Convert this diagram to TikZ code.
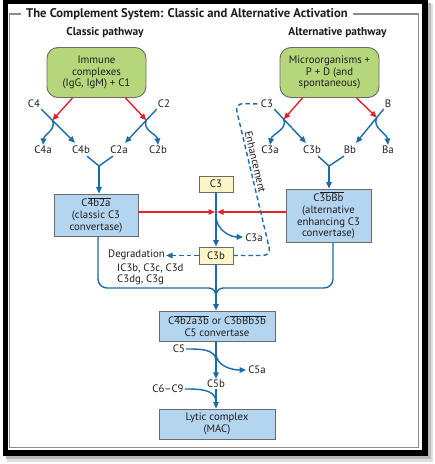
\documentclass[tikz,border=0pt]{standalone}
\usepackage{fontspec}
\setmainfont{PT Sans}
\usetikzlibrary{arrows.meta,calc}
\definecolor{lnblue}{HTML}{1B6BAA}
\definecolor{lnred}{HTML}{E2232A}
\definecolor{boxblue}{HTML}{B4D5F0}
\definecolor{boxgreen}{HTML}{B6D67B}
\definecolor{boxyellow}{HTML}{FDF6C9}
\definecolor{boxedge}{HTML}{6A6A6A}
\definecolor{framegrey}{HTML}{8C8C8C}
\definecolor{txtc}{HTML}{1E1E1E}
\newcommand\ovl[1]{$\overline{\mbox{#1}}$}
\begin{document}
\begin{tikzpicture}[x=1pt,y=-1pt,
  every node/.style={text=txtc, font=\fontsize{10.8}{11.8}\selectfont},
  lbl/.style={inner sep=1pt},
  greenbox/.style={draw=boxedge, fill=boxgreen, line width=0.9pt, rounded corners=11pt, align=center, inner sep=0pt},
  bluebox/.style={draw=boxedge, fill=boxblue, line width=0.9pt, align=center, inner sep=0pt},
  yelbox/.style={draw=boxedge, fill=boxyellow, line width=0.9pt, align=center, inner sep=0pt},
  bl/.style={draw=lnblue, line width=1.4pt},
  rd/.style={draw=lnred, line width=1.4pt},
  arr/.style={-{Triangle[length=6.5pt,width=5.5pt]}},
  dsh/.style={dash pattern=on 4.5pt off 3pt},
  hdr/.style={font=\bfseries\fontsize{11.4}{13}\selectfont},
]
\useasboundingbox (0,0) rectangle (435,464);
% frame
\fill[gray!25] (7,4) rectangle (433,462);
\fill[gray!55] (6,3) rectangle (431,459);
\fill[black] (3,-1) rectangle (428,456);
\fill[white] (8,4) rectangle (422,450);
\draw[framegrey, line width=1.1pt] (9.5,14) rectangle (418.5,447.5);
\node[fill=white, anchor=west, inner xsep=5pt, inner ysep=1pt, font=\bfseries\fontsize{12.6}{14}\selectfont] (title) at (21,14) {The Complement System: Classic and Alternative Activation};
\node[hdr] (hcl) at (105,33) {Classic pathway};
\node[hdr] (hal) at (337.5,33) {Alternative pathway};

% green boxes
\node[greenbox, minimum width=99pt, minimum height=50pt] (gl) at (96.5,72.5) {Immune\\complexes\\(IgG, IgM) + C1};
\node[greenbox, minimum width=99pt, minimum height=50pt] (gr) at (329.5,72.5) {Microorganisms +\\P + D (and\\spontaneous)};

% classic labels
\node[lbl] (c4) at (34,104) {C4};
\node[lbl] (c2) at (164,104) {C2};
\node[lbl] (c4a) at (43,150) {C4a};
\node[lbl] (c4b) at (81,150) {C4b};
\node[lbl] (c2a) at (119,150) {C2a};
\node[lbl] (c2b) at (158,150) {C2b};
% alternative labels
\node[lbl] (c3r) at (267,104) {C3};
\node[lbl] (bb) at (388,104) {B};
\node[lbl] (c3a) at (270,150) {C3a};
\node[lbl] (c3bl) at (312,150) {C3b};
\node[lbl] (bbl) at (350,150) {Bb};
\node[lbl] (ba) at (388,150) {Ba};

% classic cleavage
\draw[bl,arr] (c4.south east) -- coordinate[pos=0.33] (j1) ($(c4b.north)+(-6,-2)$);
\draw[bl,arr] (j1) to[out=-65,in=85] (c4a.north);
\draw[rd,arr] ($(gl.south)+(-24,0)$) -- (j1);
\draw[bl,arr] (c2.south west) -- coordinate[pos=0.33] (j2) ($(c2a.north)+(6,-2)$);
\draw[bl,arr] (j2) to[out=-115,in=95] (c2b.north);
\draw[rd,arr] ($(gl.south)+(29,0)$) -- (j2);
% alternative cleavage
\draw[bl,arr] (c3r.south east) -- coordinate[pos=0.3] (j3) ($(c3bl.north)+(-6,-2)$);
\draw[bl,arr] (j3) to[out=-70,in=80] (c3a.north);
\draw[rd,arr] ($(gr.south)+(-27,0)$) -- (j3);
\draw[bl,arr] (bb.south west) -- coordinate[pos=0.25] (j4) ($(bbl.north)+(6,-2)$);
\draw[bl,arr] (j4) to[out=-115,in=95] (ba.north);
\draw[rd,arr] ($(gr.south)+(27,0)$) -- (j4);

% convertases
\node[bluebox, minimum width=84pt, minimum height=42pt] (lb) at (96,215) {C\ovl{4b2a}\\(classic C3\\convertase)};
\node[bluebox, minimum width=85pt, minimum height=53pt] (rb) at (328.5,215.5) {C\ovl{3bBb}\\(alternative\\enhancing C3\\convertase)};
\coordinate (y1) at (99,166);
\coordinate (y2) at (329,166);
\draw[bl] ($(c4b.south)+(6,1)$) -- (y1) -- ($(c2a.south)+(-6,1)$);
\draw[bl,arr] (y1) -- (y1 |- lb.north);
\draw[bl] ($(c3bl.south)+(6,1)$) -- (y2) -- ($(bbl.south)+(-6,1)$);
\draw[bl,arr] (y2) -- (y2 |- rb.north);

% central C3
\node[yelbox, minimum width=34pt, minimum height=16pt] (c3) at (216,184) {C3};
\node[yelbox, minimum width=34pt, minimum height=17pt] (c3b) at (216,255.5) {C3b};
\coordinate (m) at (216,212);
\draw[bl,arr] (c3.south) -- (c3b.north);
\draw[rd,arr] (lb.east |- m) -- ($(m)+(-1,0)$);
\draw[rd,arr] (rb.west |- m) -- ($(m)+(1,0)$);
\node[lbl] (c3am) at (254,238) {C3a};
\draw[bl,arr] ($(m)+(0,4)$) to[out=-90,in=180] ($(c3am.west)+(-1,-1)$);

% degradation
\node[lbl, anchor=west] (deg) at (107,255) {Degradation};
\node[lbl, anchor=west] (deg2) at (116,268) {IC3b, C3c, C3d};
\node[lbl, anchor=west] (deg3) at (116,280) {C3dg, C3g};
\draw[bl,dsh,arr] (c3b.west) -- (deg.east |- c3b.west);

% enhancement loop
\coordinate (e1) at (271,255.5);
\coordinate (e2) at (235,103.5);
\draw[bl,dsh,rounded corners=8pt] (c3b.east) -- (e1) -- (e2) -- (c3r.west);
\node[rotate=-76.8, inner sep=0.5pt] (enh) at (255.5,162) {Enhancement};

% brace
\coordinate (tip) at (216,296);
\draw[bl,rounded corners=9pt] ($(lb.south)+(2,0)$) |- ($(tip)+(-7,-8)$);
\draw[bl,rounded corners=9pt] ($(rb.south)+(4.5,0)$) |- ($(tip)+(7,-8)$);
\draw[bl] ($(tip)+(-7,-8)$) to[out=0,in=90] (tip) to[out=90,in=180] ($(tip)+(7,-8)$);
\draw[bl] (c3b.south) -- (tip);

% C5 convertase
\node[bluebox, minimum width=116pt, minimum height=30pt] (c5box) at (217,326) {C\ovl{4b2a3b} or C\ovl{3bBb3b}\\C5 convertase};
\draw[bl,arr] (tip) -- (tip |- c5box.north);
\node[lbl] (c5) at (179,349) {C5};
\node[lbl] (c5a) at (257,370) {C5a};
\node[lbl] (c5b) at (216,384) {C5b};
\node[lbl] (c69) at (168,389) {C6--C9};
\coordinate (v1) at (216,361);
\coordinate (v2) at (216,353);
\draw[bl,arr] (c5b.north |- c5box.south) -- (c5b.north);
\draw[bl] (c5.east) to[out=0,in=90] (v1);
\draw[bl,arr] (v2) to[out=-90,in=180] ($(c5a.west)+(-1,0)$);
\node[bluebox, minimum width=116pt, minimum height=30pt] (lytic) at (217,424) {Lytic complex\\(MAC)};
\coordinate (v3) at (216,402);
\draw[bl] (c69.east) to[out=0,in=90] (v3);
\draw[bl,arr] (c5b.south) -- (c5b.south |- lytic.north);
\end{tikzpicture}
\end{document}
